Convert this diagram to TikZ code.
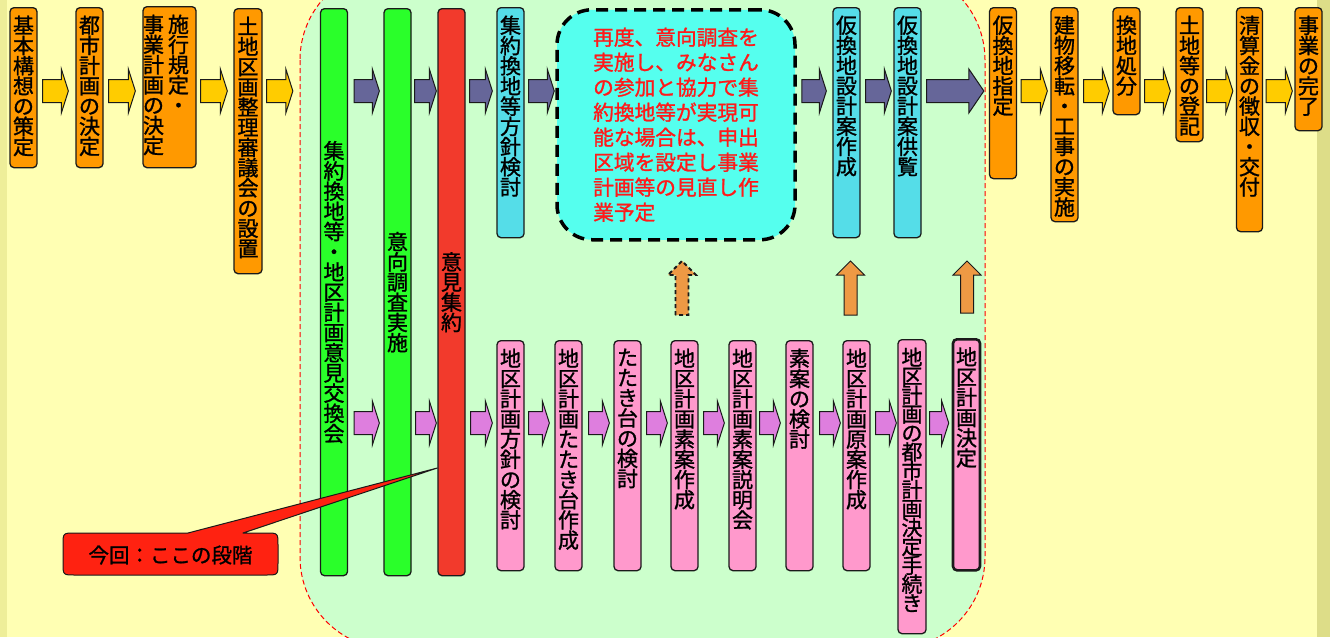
\documentclass[tikz,border=0pt]{standalone}
\usepackage{fontspec}
\setmainfont{Noto Sans CJK JP}[FakeBold=1.2]
\usetikzlibrary{calc}
\definecolor{bgY}{HTML}{FFFFB3}
\definecolor{stripL}{HTML}{EEEE99}
\definecolor{stripR}{HTML}{DDDD88}
\definecolor{bgG}{HTML}{CCFFCC}
\definecolor{bline}{HTML}{1A1A1A}
\definecolor{cOrange}{HTML}{FF9900}
\definecolor{cYellow}{HTML}{FFCC00}
\definecolor{cPurple}{HTML}{666699}
\definecolor{cPinkArr}{HTML}{DE7EDE}
\definecolor{cGreen}{HTML}{2AFF2A}
\definecolor{cRed}{HTML}{F23A2C}
\definecolor{cCyan}{HTML}{55DDE8}
\definecolor{cAqua}{HTML}{55FFEE}
\definecolor{cPink}{HTML}{FF99CC}
\definecolor{cUp}{HTML}{EE9944}
\definecolor{cCall}{HTML}{FF2211}
\definecolor{cText}{HTML}{FF1A1A}
\makeatletter
\def\vt@end{\vt@end}
\def\vt@loop#1{\ifx#1\vt@end\else\hbox to 1em{\hss#1\hss}\expandafter\vt@loop\fi}
\newcommand\vb[3][20.2]{\vbox to \dimexpr#2pt-16pt\relax{\baselineskip=#1pt\lineskiplimit=-\maxdimen\lineskip=0pt\vt@loop#3\vt@end\vss}}
\newcommand\vc[3][20.2]{\vbox to \dimexpr#2pt-16pt\relax{\baselineskip=#1pt\lineskiplimit=-\maxdimen\lineskip=0pt\vss\vt@loop#3\vt@end\vss}}
\makeatother
% block arrow between two nodes: style, from, to, y-coordinate, gap left, gap right, head length
\newcommand\barrow[7]{%
  \path[#1] let \p1=(#2.east |- #4), \p2=(#3.west |- #4) in
    (\x1+#5pt,\y1+11.5pt) -- (\x2-#6pt-#7pt,\y1+11.5pt) -- (\x2-#6pt-#7pt,\y1+22pt)
    -- (\x2-#6pt,\y1) -- (\x2-#6pt-#7pt,\y1-22pt) -- (\x2-#6pt-#7pt,\y1-11.5pt)
    -- (\x1+#5pt,\y1-11.5pt) -- cycle;}
% upward block arrow from a node: style, from, x-shift
\newcommand\uarrow[3]{%
  \path[#1] let \p1=($(#2.north)+(#3,0)$), \p2=(yup) in
    (\x1-6.5pt,\y1+25pt) -- (\x1-6.5pt,\y2-14pt) -- (\x1-14pt,\y2-14pt) -- (\x1,\y2)
    -- (\x1+14pt,\y2-14pt) -- (\x1+6.5pt,\y2-14pt) -- (\x1+6.5pt,\y1+25pt) -- cycle;}
\begin{document}
\begin{tikzpicture}[x=1pt,y=-1pt,
  bx/.style={draw=bline, line width=1.3pt, rounded corners=4pt, inner xsep=0pt, inner ysep=8pt,
    anchor=north, minimum width=27pt, font=\fontsize{21}{21}\selectfont},
  obox/.style={bx, fill=cOrange},
  gbox/.style={bx, fill=cGreen},
  rbox/.style={bx, fill=cRed},
  cbox/.style={bx, fill=cCyan},
  pbox/.style={bx, fill=cPink},
  dbox/.style={draw=black, fill=cAqua, line width=3.5pt, dash pattern=on 12pt off 7pt,
    rounded corners=35pt, minimum width=238pt, minimum height=230pt, anchor=north,
    inner sep=0pt, align=left, text=cText, font=\fontsize{20.7}{25}\selectfont},
  arr/.style={draw=bline, line width=1pt, line join=miter},
  yarr/.style={arr, fill=cYellow},
  parr/.style={arr, fill=cPurple},
  karr/.style={arr, fill=cPinkArr},
  uarr/.style={arr, fill=cUp},
  region/.style={fill=bgG, draw=red, line width=1pt, dash pattern=on 5pt off 3pt, rounded corners=92pt},
  callout/.style={fill=cCall, draw=bline, line width=1pt, line join=round}]
\useasboundingbox (0,0) rectangle (1330,637);
\clip (0,0) rectangle (1330,637);
\fill[bgY] (0,0) rectangle (1330,637);
\fill[stripL] (0,0) rectangle (7,637);
\fill[stripR] (1317,0) rectangle (1330,637);
\path[region] (300,-32) rectangle (985,649);

\coordinate (ytop) at (0,91);
\coordinate (ybot) at (0,423);
\coordinate (yup) at (0,261);
\coordinate (ycall) at (0,468);

% top row, left part
\node[obox] (n1) at (23.5,7) {\vb{160}{基本構想の策定}};
\node[obox] (n2) at (89.5,7) {\vb{160}{都市計画の決定}};
\node[obox, minimum width=53pt] (n3) at (169.5,6) {\hbox to 53pt{\vb{161}{事業計画の決定}\kern4pt\vb{161}{施行規定・}\hss}};
\node[obox, minimum width=28pt] (n4) at (248,8) {\vb{265}{土地区画整理審議会の設置}};

% green / red bars
\node[gbox] (G1) at (334,8) {\vc{567}{集約換地等・地区計画意見交換会}};
\node[gbox] (G2) at (397.5,8) {\vc{567}{意向調査実施}};
\node[rbox] (G3) at (451.5,8) {\vc{567}{意見集約}};

% cyan boxes and dashed note
\node[cbox] (C1) at (510.5,7) {\vb{230}{集約換地等方針検討}};
\node[dbox] (D) at (676,8) {再度、意向調査を\\実施し、みなさん\\の参加と協力で集\\約換地等が実現可\\能な場合は、申出\\区域を設定し事業\\計画等の見直し作\\業予定};
\node[cbox] (C2) at (846.5,7) {\vb{230}{仮換地設計案作成}};
\node[cbox] (C3) at (907.5,7) {\vb{230}{仮換地設計案供覧}};

% top row, right part
\node[obox] (T1) at (1003,7) {\vb{171}{仮換地指定}};
\node[obox] (T2) at (1064.5,7) {\vb{214}{建物移転・工事の実施}};
\node[obox] (T3) at (1126.5,7) {\vb{107}{換地処分}};
\node[obox] (T4) at (1189.5,7) {\vb{134}{土地等の登記}};
\node[obox, minimum width=26pt] (T5) at (1249.5,7) {\vb{224}{清算金の徴収・交付}};
\node[obox] (T6) at (1308.5,7) {\vb{123}{事業の完了}};

% pink row
\node[pbox] (P1) at (510.5,340) {\vb{230}{地区計画方針の検討}};
\node[pbox] (P2) at (568.5,340) {\vb{230}{地区計画たたき台作成}};
\node[pbox] (P3) at (627.5,340) {\vb{230}{たたき台の検討}};
\node[pbox] (P4) at (684.5,340) {\vb{230}{地区計画素案作成}};
\node[pbox] (P5) at (742.5,340) {\vb{230}{地区計画素案説明会}};
\node[pbox] (P6) at (799.5,340) {\vb{230}{素案の検討}};
\node[pbox] (P7) at (856.5,340) {\vb{230}{地区計画原案作成}};
\node[pbox, minimum width=28pt] (P8) at (912,339) {\vb[18.9]{294}{地区計画の都市計画決定手続き}};
\node[pbox, line width=2.6pt] (P9) at (966.5,338) {\vb{231}{地区計画決定}};

% top arrows
\barrow{yarr}{n1}{n2}{ytop}{5}{7}{7}
\barrow{yarr}{n2}{n3}{ytop}{5}{7}{7}
\barrow{yarr}{n3}{n4}{ytop}{4}{6}{7}
\barrow{yarr}{n4}{G1}{ytop}{4}{27}{7}
\barrow{parr}{G1}{G2}{ytop}{6}{4}{7}
\barrow{parr}{G2}{G3}{ytop}{3}{1}{7}
\barrow{parr}{G3}{C1}{ytop}{4}{4}{7}
\barrow{parr}{C1}{D}{ytop}{4}{1}{7}
\barrow{parr}{D}{C2}{ytop}{5}{6}{7}
\barrow{parr}{C2}{C3}{ytop}{5}{2}{7}
\barrow{parr}{C3}{T1}{ytop}{5}{5}{15}
\barrow{yarr}{T1}{T2}{ytop}{4}{3}{7}
\barrow{yarr}{T2}{T3}{ytop}{5}{3}{7}
\barrow{yarr}{T3}{T4}{ytop}{4}{5}{7}
\barrow{yarr}{T4}{T5}{ytop}{3}{3}{7}
\barrow{yarr}{T5}{T6}{ytop}{3}{2}{7}

% bottom arrows
\barrow{karr}{G1}{G2}{ybot}{6}{4}{7}
\barrow{karr}{G2}{G3}{ybot}{4}{1}{7}
\barrow{karr}{G3}{P1}{ybot}{5}{4}{7}
\barrow{karr}{P1}{P2}{ybot}{4}{5}{7}
\barrow{karr}{P2}{P3}{ybot}{6}{4}{7}
\barrow{karr}{P3}{P4}{ybot}{5}{3}{7}
\barrow{karr}{P4}{P5}{ybot}{5}{4}{7}
\barrow{karr}{P5}{P6}{ybot}{3}{5}{7}
\barrow{karr}{P6}{P7}{ybot}{6}{2}{7}
\barrow{karr}{P7}{P8}{ybot}{5}{1}{7}
\barrow{karr}{P8}{P9}{ybot}{3}{3}{7}

% upward arrows
\uarrow{uarr, line width=1.8pt, dash pattern=on 4pt off 3pt}{P4}{-2.5}
\uarrow{uarr}{P7}{-6}
\uarrow{uarr}{P9}{0.5}

% callout
\coordinate (tip) at (G3.west |- ycall);
\path[callout] (75,533) -- (188,533) -- (tip) -- (243,533) -- (266,533)
  .. controls (278,533) .. (278,545) -- (278,563) .. controls (278,575) .. (266,575)
  -- (75,575) .. controls (63,575) .. (63,563) -- (63,545) .. controls (63,533) .. (75,533) -- cycle;
\node[font=\fontsize{20.5}{20.5}\selectfont] (call) at (170.5,555) {今回：ここの段階};
\end{tikzpicture}
\end{document}
